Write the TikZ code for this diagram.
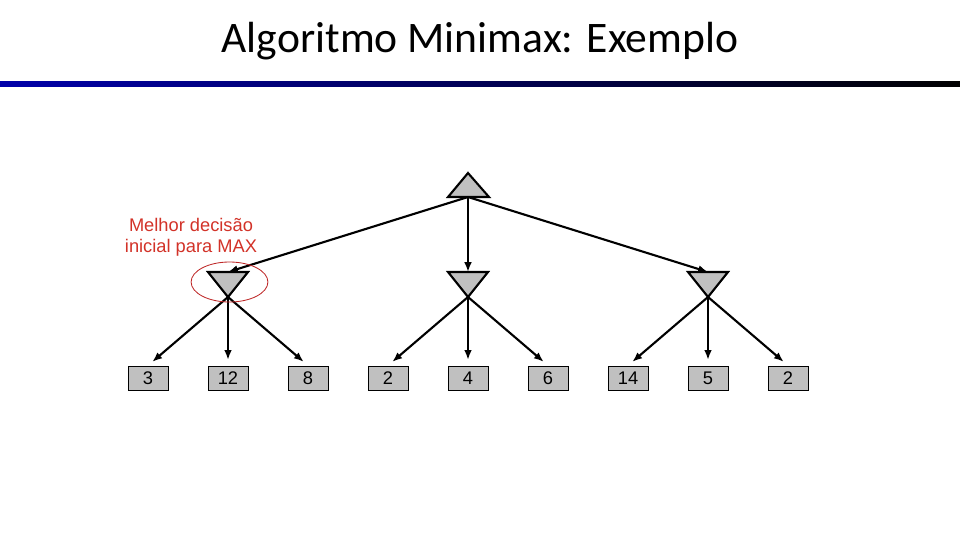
\documentclass[tikz,border=0pt]{standalone}
\usepackage{fontspec}
\setmainfont{Liberation Sans}
\newfontfamily\titlefont{Carlito}
\usetikzlibrary{arrows.meta}
\definecolor{notered}{RGB}{210,50,40}
\definecolor{ringred}{RGB}{190,40,40}
\definecolor{barblue}{RGB}{0,0,170}
\definecolor{nodegray}{RGB}{192,192,192}

\begin{document}
\begin{tikzpicture}[x=0.025cm, y=-0.025cm,
    leaf/.style={draw, fill=nodegray, minimum width=1cm, minimum height=0.6cm, inner sep=0pt, line width=0.7pt, font=\fontsize{13}{15}\selectfont},
    edge/.style={-{Latex[length=7pt,width=5.5pt]}, line width=1.5pt},
    tri/.style={fill=nodegray, draw, line width=1.5pt}]
    \useasboundingbox (0,0) rectangle (960,540);
    % Title and bar
    \node[font=\titlefont\fontsize{31}{37}\selectfont, anchor=base] (title) at (480,52) {Algoritmo Minimax: Exemplo};
    \shade[left color=barblue, right color=black] (0,81) rectangle (960,86);
    % MAX root
    \filldraw[tri] (448,197) -- (468,173) -- (489,197) -- cycle;
    \coordinate (R) at (468,197);
    % MIN layer
    \foreach \j in {1,2,3} {
        \pgfmathsetmacro\mx{-12+240*\j}
        \filldraw[tri] (\mx-20,272) -- (\mx+20,272) -- (\mx,297) -- cycle;
        \coordinate (M\j) at (\mx,272);
        \coordinate (B\j) at (\mx,297);
    }
    % Leaves
    \foreach \v [count=\i] in {3,12,8,2,4,6,14,5,2}
        \node[leaf] (L\i) at ({68+80*\i},378) {\v};
    % Connections
    \foreach \j in {1,2,3} {
        \draw[edge] (R) -- (M\j);
        \foreach \m in {1,2,3} {
            \pgfmathtruncatemacro\k{3*(\j-1)+\m}
            \draw[edge, shorten >=4pt] (B\j) -- (L\k.north);
        }
    }
    % Best decision
    \draw[ringred, line width=0.6pt] (229.5,282) ellipse [x radius=0.96cm, y radius=0.5cm];
    \node[notered, align=center, font=\fontsize{13}{15}\selectfont] (note) at (191,237) {Melhor decisão\\inicial para MAX};
\end{tikzpicture}
\end{document}
